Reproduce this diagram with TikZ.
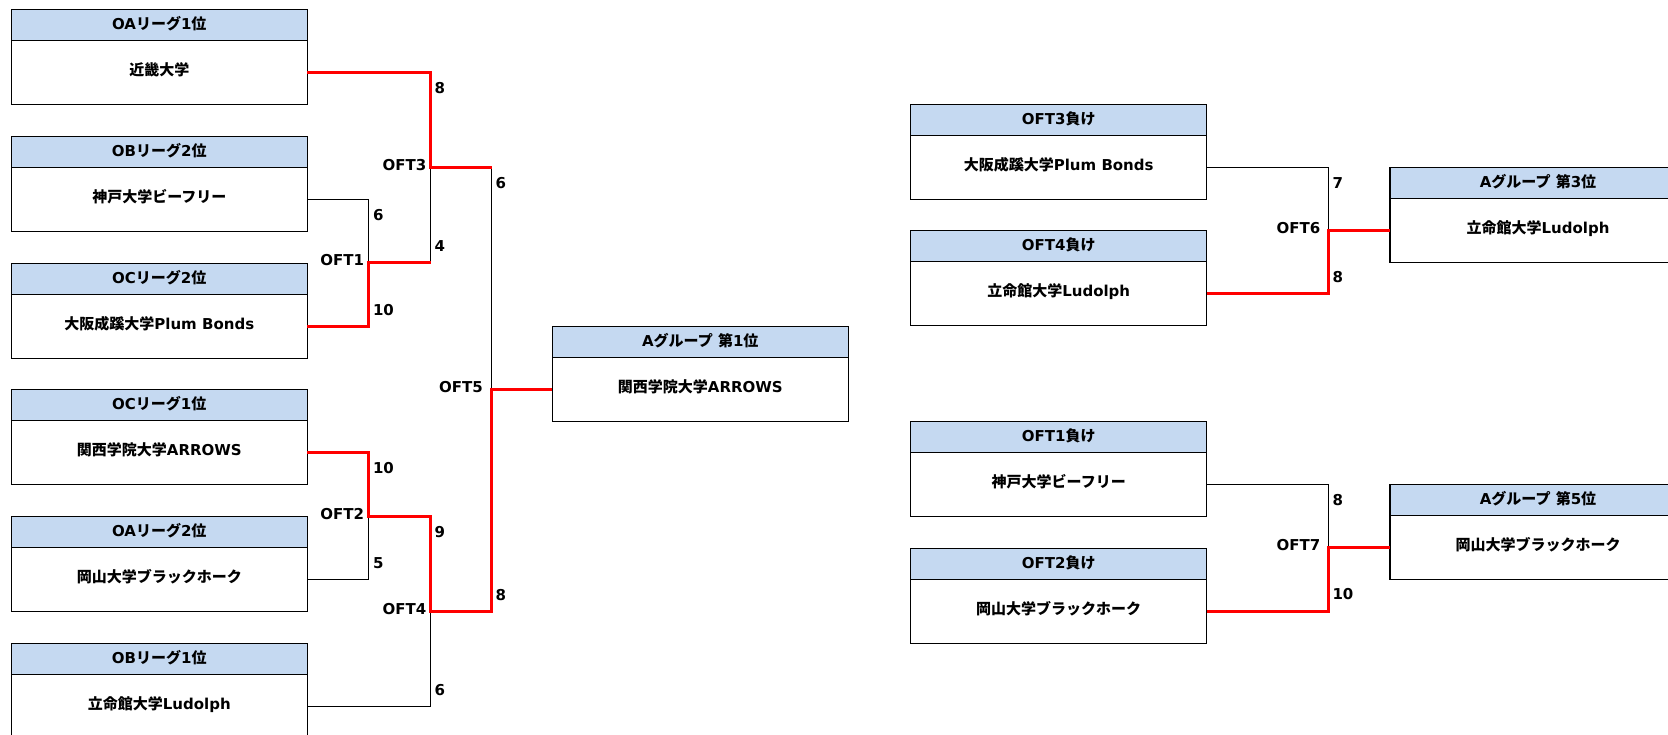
\documentclass[tikz,border=0pt]{standalone}
\usepackage{fontspec}
\setmainfont{DejaVu Sans}
\newfontfamily\jp{Noto Sans CJK JP}
\newcommand\J[1]{{\jp #1}}
\definecolor{hdrblue}{RGB}{197,217,241}
\definecolor{winred}{RGB}{255,0,0}
\begin{document}
\begin{tikzpicture}[x=1pt,y=-1pt,
  every node/.style={font=\fontsize{15}{17}\selectfont\bfseries},
  hdr/.style={draw=black, line width=1.2pt, fill=hdrblue, minimum width=296pt, minimum height=31.4pt, inner sep=0pt, outer sep=0pt, text height=12pt, text depth=3.6pt, anchor=north west},
  body/.style={draw=black, line width=1.2pt, fill=white, minimum width=296pt, minimum height=63.6pt, inner sep=0pt, outer sep=0pt, text height=12pt, text depth=5.4pt, anchor=north},
  lose/.style={draw=black, line width=1pt},
  win/.style={draw=winred, line width=3pt},
  lbl/.style={inner sep=0pt},
]
\useasboundingbox[fill=white] (0,0) rectangle (1668,735);

% left column
\node[hdr] (h1) at (11.3,9.3) {OA\J{リーグ}1\J{位}};
\node[body] (b1) at (h1.south) {\J{近畿大学}};
\node[hdr] (h2) at (11.3,136.3) {OB\J{リーグ}2\J{位}};
\node[body] (b2) at (h2.south) {\J{神戸大学ビーフリー}};
\node[hdr] (h3) at (11.3,263.3) {OC\J{リーグ}2\J{位}};
\node[body] (b3) at (h3.south) {\J{大阪成蹊大学}Plum Bonds};
\node[hdr] (h4) at (11.3,389.3) {OC\J{リーグ}1\J{位}};
\node[body] (b4) at (h4.south) {\J{関西学院大学}ARROWS};
\node[hdr] (h5) at (11.3,516.3) {OA\J{リーグ}2\J{位}};
\node[body] (b5) at (h5.south) {\J{岡山大学ブラックホーク}};
\node[hdr] (h6) at (11.3,643.3) {OB\J{リーグ}1\J{位}};
\node[body] (b6) at (h6.south) {\J{立命館大学}Ludolph};

% final
\node[hdr] (hf) at (552.3,326.3) {A\J{グループ} \J{第}1\J{位}};
\node[body] (bf) at (hf.south) {\J{関西学院大学}ARROWS};

% right side
\node[hdr] (hl3) at (910.7,104.3) {OFT3\J{負け}};
\node[body] (bl3) at (hl3.south) {\J{大阪成蹊大学}Plum Bonds};
\node[hdr] (hl4) at (910.7,230.3) {OFT4\J{負け}};
\node[body] (bl4) at (hl4.south) {\J{立命館大学}Ludolph};
\node[hdr] (hr3) at (1390,167.3) {A\J{グループ} \J{第}3\J{位}};
\node[body] (br3) at (hr3.south) {\J{立命館大学}Ludolph};

\node[hdr] (hl1) at (910.7,421.3) {OFT1\J{負け}};
\node[body] (bl1) at (hl1.south) {\J{神戸大学ビーフリー}};
\node[hdr] (hl2) at (910.7,548.3) {OFT2\J{負け}};
\node[body] (bl2) at (hl2.south) {\J{岡山大学ブラックホーク}};
\node[hdr] (hr5) at (1390,484.3) {A\J{グループ} \J{第}5\J{位}};
\node[body] (br5) at (hr5.south) {\J{岡山大学ブラックホーク}};

% junctions
\coordinate (j1) at (368.5,262.5);
\coordinate (j2) at (368.5,516.5);
\coordinate (j3) at (430.5,167.5);
\coordinate (j4) at (430.5,611.5);
\coordinate (j5) at (491.5,389.5);
\coordinate (j6) at (1328.5,230.5);
\coordinate (j7) at (1328.5,547.5);

% thin bracket lines
\draw[lose] (b2.east) -| (j1);
\draw[lose] (b3.east) -| (j1);
\draw[lose] (b1.east) -| (j3);
\draw[lose] (j1) -| (j3);
\draw[lose] (b4.east) -| (j2);
\draw[lose] (b5.east) -| (j2);
\draw[lose] (j2) -| (j4);
\draw[lose] (b6.east) -| (j4);
\draw[lose] (j3) -| (j5);
\draw[lose] (j4) -| (j5);
\draw[lose] (bl3.east) -| (j6);
\draw[lose] (bl4.east) -| (j6);
\draw[lose] (bl1.east) -| (j7);
\draw[lose] (bl2.east) -| (j7);

% winners
\draw[win] (b3.east) -| (j1) -- (j1 -| j3);
\draw[win] (b1.east) -| (j3) -- (j3 -| j5);
\draw[win] (b4.east) -| (j2) -| (j4) -| (j5) -- (bf.west |- j5);
\draw[win] (bl4.east) -| (j6) -- (br3.west |- j6);
\draw[win] (bl2.east) -| (j7) -- (br5.west |- j7);

% match labels
\node[lbl, anchor=east] (m1) at (364.3,260.2) {OFT1};
\node[lbl, anchor=east] (m2) at (364.3,513.8) {OFT2};
\node[lbl, anchor=east] (m3) at (426.5,165.1) {OFT3};
\node[lbl, anchor=east] (m4) at (426.5,608.9) {OFT4};
\node[lbl, anchor=east] (m5) at (483,387) {OFT5};
\node[lbl, anchor=east] (m6) at (1320.5,228.2) {OFT6};
\node[lbl, anchor=east] (m7) at (1320.5,545.2) {OFT7};

% scores
\node[lbl, anchor=west] (s1a) at (372.8,214.8) {6};
\node[lbl, anchor=west] (s1b) at (372.8,309.6) {10};
\node[lbl, anchor=west] (s3a) at (434.5,88) {8};
\node[lbl, anchor=west] (s3b) at (434.5,246.2) {4};
\node[lbl, anchor=west] (s5a) at (495.5,183.1) {6};
\node[lbl, anchor=west] (s5b) at (495.5,594.9) {8};
\node[lbl, anchor=west] (s2a) at (372.8,468.4) {10};
\node[lbl, anchor=west] (s2b) at (372.8,563.2) {5};
\node[lbl, anchor=west] (s4a) at (434.5,531.8) {9};
\node[lbl, anchor=west] (s4b) at (434.5,690) {6};
\node[lbl, anchor=west] (s6a) at (1332.3,183) {7};
\node[lbl, anchor=west] (s6b) at (1332.3,277.4) {8};
\node[lbl, anchor=west] (s7a) at (1332.3,500.2) {8};
\node[lbl, anchor=west] (s7b) at (1332.3,594.5) {10};
\end{tikzpicture}
\end{document}
